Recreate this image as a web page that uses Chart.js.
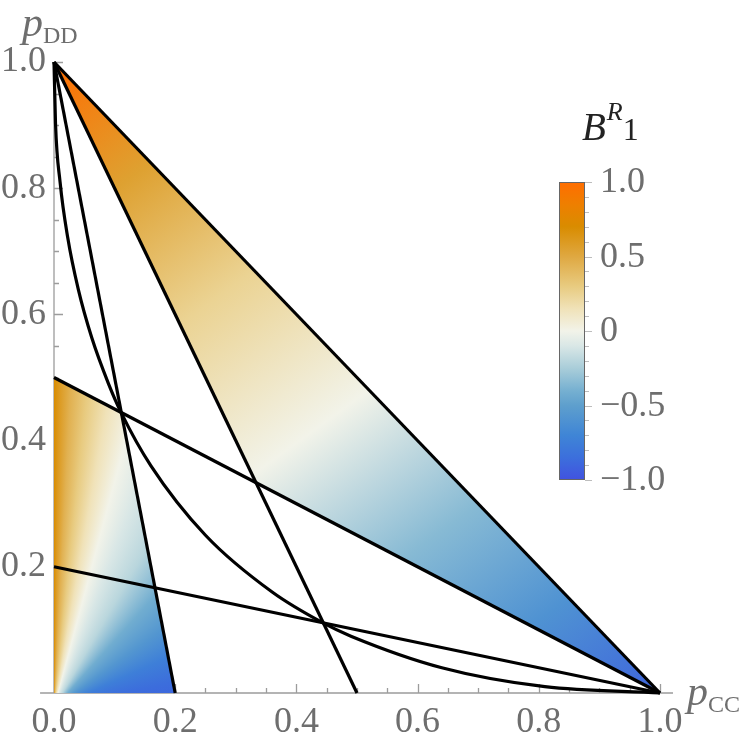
<!DOCTYPE html>
<html><head><meta charset="utf-8">
<script src="https://cdn.jsdelivr.net/npm/chart.js@4"></script>
<style>html,body{margin:0;padding:0;background:#fff}#wrap{width:747px;height:750px}</style>
</head><body><div id="wrap"><canvas id="c" width="747" height="750"></canvas></div>
<script>
// ---------------- data ----------------
const xTickValues = [0, 0.2, 0.4, 0.6, 0.8, 1.0];
const xTickLabels = ['0.0', '0.2', '0.4', '0.6', '0.8', '1.0'];
const yTickValues = [0.2, 0.4, 0.6, 0.8, 1.0];
const yTickLabels = ['0.2', '0.4', '0.6', '0.8', '1.0'];

// straight lines (endpoints)
const line1X = [0, 1],   line1Y = [1, 0];
const line2X = [0, 0.5], line2Y = [1, 0];
const line3X = [0, 0.2], line3Y = [1, 0];
const line4X = [0, 1],   line4Y = [0.5, 0];
const line5X = [0, 1],   line5Y = [0.2, 0];

// curved boundary
const curveX = [0, 0.0025, 0.01, 0.0225, 0.04, 0.0625, 0.09, 0.111, 0.16, 0.25, 0.36, 0.444, 0.49, 0.64, 0.81, 1];
const curveY = [1, 0.9025, 0.81, 0.7225, 0.64, 0.5625, 0.49, 0.444, 0.36, 0.25, 0.16, 0.111, 0.09, 0.04, 0.01, 0];

// shaded regions (corner points)
const regionAX = [0, 1, 0.333];
const regionAY = [1, 0, 0.333];
const regionBX = [0, 0, 0.111, 0.2];
const regionBY = [0, 0.5, 0.444, 0];

// colour bar
const cbTickValues = [1, 0.5, 0, -0.5, -1];
const cbTickLabels = ['1.0', '0.5', '0', '\u22120.5', '\u22121.0'];
const cbStopValues = [-1, -0.85, -0.7, -0.5, -0.4, -0.25, -0.1, 0, 0.15, 0.3, 0.5, 0.7, 0.85, 1];
const cbStopColors = ['#4152E0', '#3C6FDC', '#3F85D6', '#5E9FCD', '#76B0D1', '#A9CDD9', '#D9E7E6',
                      '#F2F3E9', '#F0E2B8', '#E8CB80', '#DFA841', '#D98C00', '#EE7F00', '#FF6D00'];

// colour values seen across region A (fraction along its gradient direction) and region B (angle, degrees)
const regionAFrac = [0, 0.16, 0.33, 0.52, 0.7, 0.85, 1];
const regionAVal  = [1.0, 0.55, 0.25, 0, -0.35, -0.6, -0.9];
const regionBAngle = [-20, 0, 1, 3, 6, 10, 15, 21, 30, 42, 54, 66, 78, 90, 100];
const regionBVal   = [0.7, 0.7, 0.6, 0.45, 0.3, 0.15, 0, -0.1, -0.2, -0.42, -0.57, -0.74, -0.86, -0.92, -0.95];

// ---------------- helpers ----------------
function hex2rgb(h){ return [parseInt(h.slice(1,3),16), parseInt(h.slice(3,5),16), parseInt(h.slice(5,7),16)]; }
function colorAt(v){
  if (v <= cbStopValues[0]) return cbStopColors[0];
  for (let i = 1; i < cbStopValues.length; i++){
    if (v <= cbStopValues[i]){
      const t = (v - cbStopValues[i-1]) / (cbStopValues[i] - cbStopValues[i-1]);
      const a = hex2rgb(cbStopColors[i-1]), b = hex2rgb(cbStopColors[i]);
      return 'rgb(' + a.map((c,k)=>Math.round(c + (b[k]-c)*t)).join(',') + ')';
    }
  }
  return cbStopColors[cbStopColors.length-1];
}
const pts = (xs, ys) => xs.map((x, i) => ({x, y: ys[i]}));
const FONT = "'Liberation Serif', 'DejaVu Serif', serif";

function gradA(chart){
  const {ctx, chartArea, scales} = chart;
  if (!chartArea) return 'rgba(0,0,0,0)';
  const x0 = scales.x.getPixelForValue(0), y0 = scales.y.getPixelForValue(1);
  const x1 = scales.x.getPixelForValue(1), y1 = scales.y.getPixelForValue(0);
  const dx = 0.588, dy = 0.809;
  const L = (x1 - x0) * dx + (y1 - y0) * dy;
  const g = ctx.createLinearGradient(x0, y0, x0 + dx * L, y0 + dy * L);
  regionAFrac.forEach((f, i) => g.addColorStop(f, colorAt(regionAVal[i])));
  return g;
}
function gradB(chart){
  const {ctx, chartArea, scales} = chart;
  if (!chartArea) return 'rgba(0,0,0,0)';
  const cx = scales.x.getPixelForValue(0), cy = scales.y.getPixelForValue(0) + 15;
  const start = -Math.PI / 2 + regionBAngle[0] * Math.PI / 180;
  const g = ctx.createConicGradient(start, cx, cy);
  regionBAngle.forEach((a, i) => g.addColorStop((a - regionBAngle[0]) / 360, colorAt(regionBVal[i])));
  g.addColorStop(1, colorAt(regionBVal[0]));
  return g;
}

// ---------------- plugins ----------------
const axesPlugin = {
  id: 'mmaAxes',
  beforeDatasetsDraw(chart){
    const {ctx, scales: {x, y}} = chart;
    const ox = x.getPixelForValue(0), oy = y.getPixelForValue(0);
    ctx.save();
    ctx.strokeStyle = '#9c9c9c';
    ctx.lineWidth = 1.3;
    ctx.beginPath();
    ctx.moveTo(x.getPixelForValue(-0.023), oy); ctx.lineTo(x.right, oy);
    ctx.moveTo(ox, oy); ctx.lineTo(ox, y.getPixelForValue(1));
    for (let i = 1; i <= 20; i++){
      const v = i * 0.05, len = (i % 4 === 0) ? 9 : 5;
      const px = Math.round(x.getPixelForValue(v)) + 0.5;
      ctx.moveTo(px, oy); ctx.lineTo(px, oy - len);
      const py = Math.round(y.getPixelForValue(v)) + 0.5;
      ctx.moveTo(ox, py); ctx.lineTo(ox + len, py);
    }
    ctx.stroke();
    ctx.restore();
  }
};

function mixed(ctx, parts, x){
  for (const [t, f, by, dx] of parts){
    ctx.font = f;
    x += (dx || 0);
    ctx.fillText(t, x, by);
    x += ctx.measureText(t).width;
  }
}

const decorPlugin = {
  id: 'decor',
  afterDraw(chart){
    const {ctx} = chart;
    ctx.save();
    ctx.fillStyle = '#6e6e6e';
    ctx.textBaseline = 'alphabetic';
    // axis labels
    mixed(ctx, [['p', 'italic 42px ' + FONT, 36], ['DD', '24px ' + FONT, 43, 0]], 22);
    mixed(ctx, [['p', 'italic 42px ' + FONT, 705], ['CC', '24px ' + FONT, 712, 0]], 687);

    // colour bar
    const bx = 559, bw = 26, top = 182, bot = 480;
    const vy = v => top + (1 - v) / 2 * (bot - top);
    const g = ctx.createLinearGradient(0, top, 0, bot);
    cbStopValues.forEach((v, i) => g.addColorStop((1 - v) / 2, cbStopColors[i]));
    ctx.fillStyle = g;
    ctx.fillRect(bx, top, bw, bot - top);
    ctx.strokeStyle = '#666'; ctx.lineWidth = 1;
    ctx.strokeRect(bx + 0.5, top + 0.5, bw - 1, bot - top - 1);
    ctx.strokeStyle = '#bdbdbd';
    ctx.beginPath();
    for (let i = 0; i <= 20; i++){
      const v = 1 - i * 0.1, py = Math.round(vy(v)) + 0.5;
      const len = (i % 5 === 0) ? 7 : 4;
      ctx.moveTo(bx + bw, py); ctx.lineTo(bx + bw + len, py);
    }
    ctx.stroke();
    ctx.fillStyle = '#6e6e6e';
    ctx.font = '36px ' + FONT;
    ctx.textBaseline = 'middle';
    cbTickValues.forEach((v, i) => ctx.fillText(cbTickLabels[i], 600, vy(v) + 1));
    // colour bar title
    ctx.fillStyle = '#222';
    ctx.textBaseline = 'alphabetic';
    mixed(ctx, [['B', 'italic 39px ' + FONT, 140], ['R', 'italic 26px ' + FONT, 120, 1], ['1', '32px ' + FONT, 140, 0]], 582);
    ctx.restore();
  }
};

// ---------------- chart ----------------
const lineStyle = {showLine: true, borderColor: '#000', borderWidth: 3.2, pointRadius: 0, fill: false, clip: false, tension: 0, order: 1};
const regionStyle = {showLine: true, borderWidth: 0, borderColor: 'rgba(0,0,0,0)', pointRadius: 0, fill: 'shape', clip: false, tension: 0, order: 2};

new Chart(document.getElementById('c'), {
  type: 'scatter',
  data: {
    datasets: [
      Object.assign({data: pts(regionAX, regionAY), backgroundColor: c => gradA(c.chart)}, regionStyle),
      Object.assign({data: pts(regionBX, regionBY), backgroundColor: c => gradB(c.chart)}, regionStyle),
      Object.assign({data: pts(line1X, line1Y)}, lineStyle),
      Object.assign({data: pts(line2X, line2Y)}, lineStyle),
      Object.assign({data: pts(line3X, line3Y)}, lineStyle),
      Object.assign({data: pts(line4X, line4Y)}, lineStyle),
      Object.assign({data: pts(line5X, line5Y)}, lineStyle),
      Object.assign({data: pts(curveX, curveY), cubicInterpolationMode: 'monotone'}, lineStyle)
    ]
  },
  options: {
    responsive: false, animation: false, devicePixelRatio: 1,
    layout: {padding: {left: 0, top: 62, right: 74, bottom: 0}},
    plugins: {legend: {display: false}, tooltip: {enabled: false}},
    scales: {
      x: {
        type: 'linear', min: 0, max: 1.0215,
        afterFit: s => { s.height = 57; },
        afterBuildTicks: s => { s.ticks = xTickValues.map(v => ({value: v})); },
        ticks: {callback: (v, i) => xTickLabels[i], font: {family: FONT, size: 36}, color: '#6e6e6e', padding: 8, maxRotation: 0, autoSkip: false},
        grid: {display: false, drawTicks: false}, border: {display: false}
      },
      y: {
        type: 'linear', min: 0, max: 1,
        afterFit: s => { s.width = 54; },
        afterBuildTicks: s => { s.ticks = yTickValues.map(v => ({value: v})); },
        ticks: {callback: (v, i) => yTickLabels[i], font: {family: FONT, size: 36}, color: '#6e6e6e', padding: 8, autoSkip: false},
        grid: {display: false, drawTicks: false}, border: {display: false}
      }
    }
  },
  plugins: [axesPlugin, decorPlugin]
});
</script>
</body></html>
